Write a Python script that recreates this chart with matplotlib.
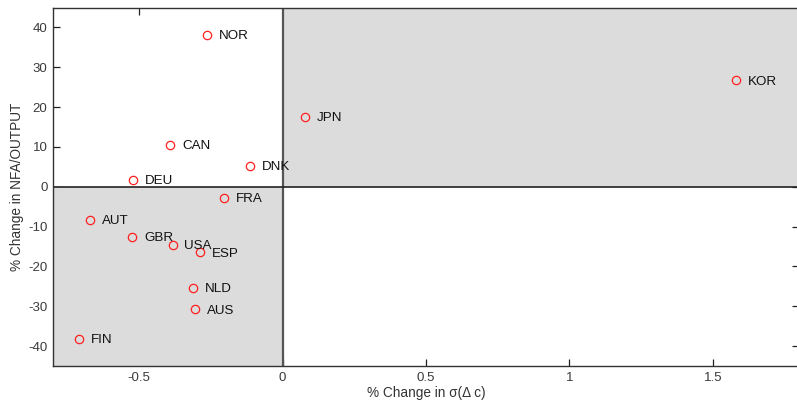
import matplotlib
matplotlib.use("Agg")
import matplotlib.pyplot as plt
from matplotlib.patches import Rectangle

countries = ["NOR", "CAN", "DEU", "DNK", "JPN", "KOR", "FRA", "AUT",
             "GBR", "USA", "ESP", "NLD", "AUS", "FIN"]
sigma_change = [-0.262, -0.391, -0.520, -0.112, 0.077, 1.580, -0.203, -0.670,
                -0.524, -0.383, -0.286, -0.313, -0.304, -0.709]
nfa_change = [38.2, 10.5, 1.6, 5.3, 17.6, 26.7, -2.8, -8.3,
              -12.6, -14.6, -16.5, -25.3, -30.8, -38.2]

xticks = [-0.5, 0, 0.5, 1, 1.5]
xticklabels = ["-0.5", "0", "0.5", "1", "1.5"]
yticks = [-40, -30, -20, -10, 0, 10, 20, 30, 40]
yticklabels = ["-40", "-30", "-20", "-10", "0", "10", "20", "30", "40"]

plt.rcParams['font.family'] = ['Liberation Sans', 'DejaVu Sans']

fig = plt.figure(figsize=(7.97, 4.05), dpi=100)
ax = fig.add_axes([53/797, 39/405, 746/797, 358.5/405])
xmin, xmax = -0.8, 1.8
ymin, ymax = -45, 45
ax.set_xlim(xmin, xmax)
ax.set_ylim(ymin, ymax)

grey = '#dcdcdc'
ax.add_patch(Rectangle((0, 0), xmax, ymax, facecolor=grey, edgecolor='none', zorder=2))
ax.add_patch(Rectangle((xmin, ymin), -xmin, -ymin, facecolor=grey, edgecolor='none', zorder=2))
ax.set_axisbelow(True)

ax.axvline(0, color='#555555', lw=1.6, zorder=3)
ax.axhline(0, color='#222222', lw=1.2, zorder=3)

ax.plot(sigma_change, nfa_change, linestyle='none', marker='o', markersize=6,
        markerfacecolor='none', markeredgecolor='#ff2020', markeredgewidth=0.9, zorder=4)
for name, xv, yv in zip(countries, sigma_change, nfa_change):
    ax.annotate(name, (xv, yv), xytext=(8.5, -0.8), textcoords='offset points',
                ha='left', va='center', fontsize=9.6, color='#111111', zorder=5)

ax.set_xticks(xticks)
ax.set_xticklabels(xticklabels)
ax.set_yticks(yticks)
ax.set_yticklabels(yticklabels)
ax.tick_params(direction='in', length=5, width=0.9, top=True, right=True,
               labelsize=9.5, colors='#222222', pad=4)
for t in ax.get_xticklabels() + ax.get_yticklabels():
    t.set_color('#3a3a3a')

for side in ['left', 'bottom', 'top', 'right']:
    ax.spines[side].set_color('#333333')
    ax.spines[side].set_linewidth(1.0)
    ax.spines[side].set_zorder(6)

ax.set_xlabel('% Change in σ(Δ c)', fontsize=9.8, color='#333333', labelpad=2)
ax.set_ylabel('% Change in NFA/OUTPUT', fontsize=9.8, color='#333333', labelpad=3)

fig.savefig('out.png', dpi=100)
